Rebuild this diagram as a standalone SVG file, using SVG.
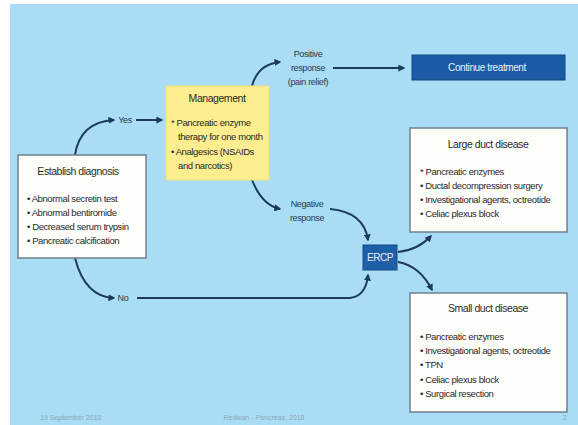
<svg xmlns="http://www.w3.org/2000/svg" width="578" height="425" viewBox="0 0 578 425">
<style>
.t{font-family:"Liberation Sans",Arial,sans-serif;font-size:9.5px;letter-spacing:-0.4px;fill:#2a2a2a}
.h{font-family:"Liberation Sans",Arial,sans-serif;font-size:10.5px;letter-spacing:-0.45px;fill:#2a2a2a}
.l{font-family:"Liberation Sans",Arial,sans-serif;font-size:9px;letter-spacing:-0.35px;fill:#2a3a4a}
.w{font-family:"Liberation Sans",Arial,sans-serif;font-size:10px;letter-spacing:-0.4px;fill:#e8f0fa}
.f{font-family:"Liberation Sans",Arial,sans-serif;font-size:7px;fill:#8fa6b8}
.box{fill:#fdfdfa;stroke:#6f7f8e;stroke-width:1.5}
.c{fill:none;stroke:#1d3a5c;stroke-width:2}
</style>
<defs>
<marker id="a" viewBox="0 0 10 10" refX="8" refY="5" markerWidth="3.5" markerHeight="3.5" orient="auto">
<path d="M0,0 L10,5 L0,10 z" fill="#1d3a5c"/>
</marker>
</defs>
<rect x="0" y="0" width="578" height="425" fill="#ffffff"/>
<rect x="10" y="4" width="568" height="421" fill="#a9ddf6"/>

<g id="connectors">
<path class="c" d="M75,155 Q80,122 114,120" marker-end="url(#a)"/>
<path class="c" d="M136,120 L162,120" marker-end="url(#a)"/>
<path class="c" d="M252,86 Q258,64 280,62" marker-end="url(#a)"/>
<path class="c" d="M333,68 L404,68" marker-end="url(#a)"/>
<path class="c" d="M252,180 Q262,205 280,209" marker-end="url(#a)"/>
<path class="c" d="M330,209 Q364,212 368,240" marker-end="url(#a)"/>
<path class="c" d="M75,258 Q85,297 114,298" marker-end="url(#a)"/>
<path class="c" d="M137,298 L350,298 Q366,296 368,275" marker-end="url(#a)"/>
<path class="c" d="M398,252 Q418,250 431,236" marker-end="url(#a)"/>
<path class="c" d="M398,262 Q420,266 432,290" marker-end="url(#a)"/>
</g>

<g id="labels">
<text class="l" x="125" y="123" text-anchor="middle">Yes</text>
<text class="l" x="123" y="301" text-anchor="middle">No</text>
<text class="l" x="308" y="57" text-anchor="middle">Positive</text>
<text class="l" x="308" y="71" text-anchor="middle">response</text>
<text class="l" x="308" y="85" text-anchor="middle">(pain relief)</text>
<text class="l" x="307" y="207" text-anchor="middle">Negative</text>
<text class="l" x="307" y="221" text-anchor="middle">response</text>
</g>

<g id="diagnosis">
<rect class="box" x="18" y="155" width="128" height="103"/>
<text class="h" x="78" y="175" text-anchor="middle">Establish diagnosis</text>
<text class="t" x="27" y="202">•  Abnormal secretin test</text>
<text class="t" x="27" y="216">•  Abnormal bentiromide</text>
<text class="t" x="27" y="230">•  Decreased serum trypsin</text>
<text class="t" x="27" y="244">•  Pancreatic calcification</text>
</g>

<g id="management">
<rect x="166" y="86" width="103" height="94" fill="#fcee8e" stroke="#f3e27a" stroke-width="1"/>
<text class="h" x="217" y="102" text-anchor="middle">Management</text>
<text class="t" x="171" y="126">*  Pancreatic enzyme</text>
<text class="t" x="178" y="140">therapy for one month</text>
<text class="t" x="171" y="155">•  Analgesics (NSAIDs</text>
<text class="t" x="178" y="169">and narcotics)</text>
</g>

<g id="continue">
<rect x="412" y="55" width="153" height="25" fill="#1b5ba6" stroke="#14497f" stroke-width="1"/>
<text class="w" x="487" y="71" text-anchor="middle">Continue treatment</text>
</g>

<g id="ercp">
<rect x="363" y="245" width="34" height="25" fill="#1d5fa8" stroke="#164b85" stroke-width="1"/>
<text class="w" x="380" y="261" text-anchor="middle">ERCP</text>
</g>

<g id="large">
<rect class="box" x="410" y="128" width="157" height="104"/>
<text class="h" x="488" y="148" text-anchor="middle">Large duct disease</text>
<text class="t" x="420" y="175">*  Pancreatic enzymes</text>
<text class="t" x="420" y="189">•  Ductal decompression surgery</text>
<text class="t" x="420" y="203">•  Investigational agents, octreotide</text>
<text class="t" x="420" y="217">•  Celiac plexus block</text>
</g>

<g id="small">
<rect class="box" x="410" y="293" width="157" height="119"/>
<text class="h" x="488" y="312" text-anchor="middle">Small duct disease</text>
<text class="t" x="420" y="340">•  Pancreatic enzymes</text>
<text class="t" x="420" y="354">•  Investigational agents, octreotide</text>
<text class="t" x="420" y="368">•  TPN</text>
<text class="t" x="420" y="383">•  Celiac plexus block</text>
<text class="t" x="420" y="397">•  Surgical resection</text>
</g>

<g id="footer">
<text class="f" x="40" y="420">19 September 2018</text>
<text class="f" x="264" y="420" text-anchor="middle">Redwan - Pancreas; 2018</text>
<text class="f" x="563" y="420">2</text>
</g>
</svg>
